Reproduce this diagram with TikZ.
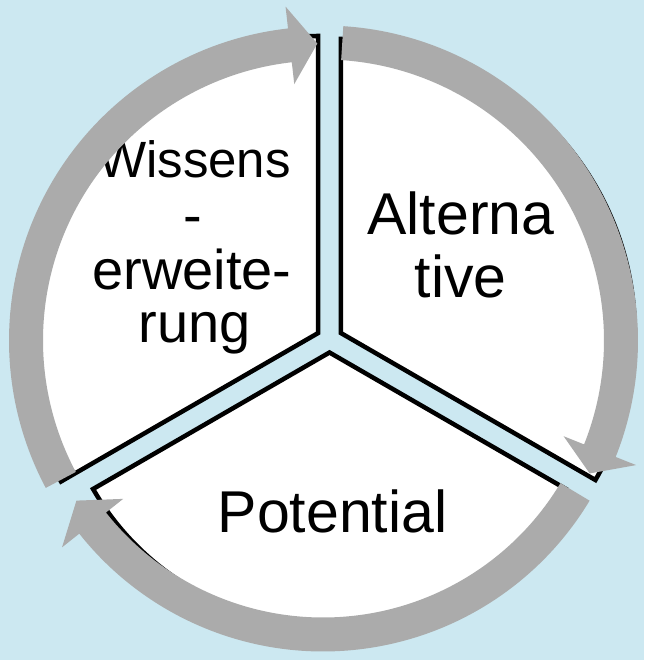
\documentclass[tikz,border=0pt]{standalone}
\usepackage{fontspec}
\setmainfont{Liberation Sans}
\definecolor{bgblue}{RGB}{204,232,241}
\definecolor{arrowgray}{RGB}{171,171,171}
\tikzset{
  sector/.style={fill=white, draw=black, line width=4.5pt, line join=miter},
  biglabel/.style={font=\fontsize{59}{63}\selectfont, inner sep=0pt, anchor=base},
  smalllabel/.style={font=\fontsize{56}{55}\selectfont, inner sep=0pt, anchor=base},
  toplabel/.style={font=\fontsize{51}{55}\selectfont, inner sep=0pt, anchor=base east},
  cyclearrowstyle/.style={fill=arrowgray}
}
% #1 start angle, #2 head base angle, #3 tip angle, #4 mid radius
\newcommand{\cyclearrow}[4]{%
  \pgfmathsetmacro{\rin}{#4-17}%
  \pgfmathsetmacro{\rout}{#4+17}%
  \pgfmathsetmacro{\hin}{#4-39}%
  \pgfmathsetmacro{\hout}{#4+39}%
  \fill[cyclearrowstyle] (#1:\rin pt) arc[start angle=#1, end angle=#2, radius=\rin pt]
    -- (#2:\hin pt) -- (#3:#4pt) -- (#2:\hout pt) -- (#2:\rout pt)
    arc[start angle=#2, end angle=#1, radius=\rout pt] -- cycle;%
}
\begin{document}
\begin{tikzpicture}[x=1pt,y=1pt]
\useasboundingbox (0,0) rectangle (644,660);
\fill[bgblue] (0,0) rectangle (644,660);
% sectors
\filldraw[sector] (318.2,327) -- ++(90:297pt) arc[start angle=90, end angle=210, radius=297pt] -- cycle;
\filldraw[sector] (340.8,327) -- ++(90:294pt) arc[start angle=90, end angle=-30, radius=294pt] -- cycle;
\filldraw[sector] (329.5,307.5) -- ++(210:273pt) arc[start angle=210, end angle=330, radius=273pt] -- cycle;
% labels
\node[toplabel] (w1) at (291,482) {Wissens};
\node[smalllabel] (w2) at (193,425) {-};
\node[smalllabel] (w3) at (192,370) {erweite-};
\node[smalllabel] (w4) at (194.5,317) {rung};
\node[biglabel] (a1) at (461,425) {Alterna};
\node[biglabel] (a2) at (460.5,362) {tive};
\node[biglabel] (p1) at (332.5,127) {Potential};
% cycle arrows
\begin{scope}[shift={(323,319.5)}]
\cyclearrow{208}{96.4}{91.1}{297}
\cyclearrow{86.3}{-21.7}{-26.5}{298}
\cyclearrow{-31}{-141.6}{-147}{294}
\end{scope}
\end{tikzpicture}
\end{document}
